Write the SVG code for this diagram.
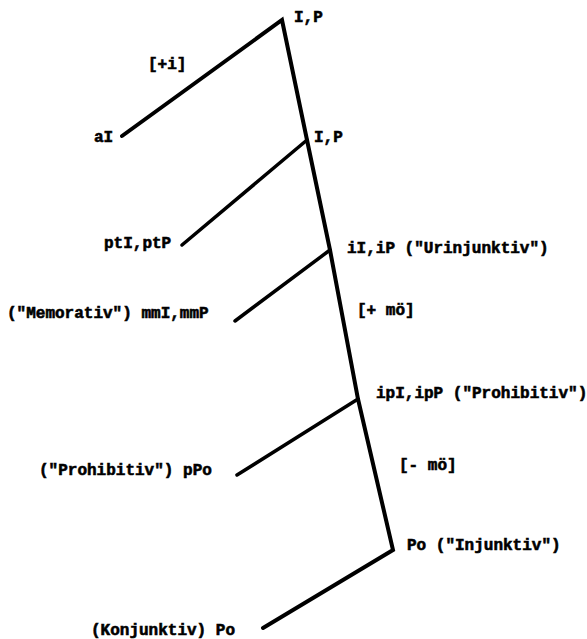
<svg xmlns="http://www.w3.org/2000/svg" width="587" height="639" viewBox="0 0 587 639">
<style>
text{font-family:"Liberation Mono","DejaVu Sans Mono",monospace;font-weight:bold;font-size:16px;fill:#000;stroke:#000;stroke-width:0.6}
.main{fill:none;stroke:#000;stroke-width:4;stroke-linejoin:miter;stroke-linecap:round}
.br{fill:none;stroke:#000;stroke-width:3.5;stroke-linecap:round}
</style>
<rect width="587" height="639" fill="#fff"/>
<g id="connectors">
<polyline class="main" points="122,136 282,20 307,140 330,250 358,399 393,550 263,628"/>
<line class="br" x1="182" y1="245" x2="307" y2="140"/>
<line class="br" x1="235" y1="321" x2="330" y2="250"/>
<line class="br" x1="237" y1="475" x2="358" y2="399"/>
</g>
<g id="n_root"><text x="294" y="22">I,P</text></g>
<g id="e_i"><text x="148" y="69">[+i]</text></g>
<g id="n_aI"><text x="94" y="142">aI</text></g>
<g id="n_IP2"><text x="314" y="142">I,P</text></g>
<g id="n_pt"><text x="104" y="248">ptI,ptP</text></g>
<g id="n_iI"><text x="347" y="253">iI,iP ("Urinjunktiv")</text></g>
<g id="n_mm"><text x="7" y="318">("Memorativ") mmI,mmP</text></g>
<g id="e_plus"><text x="357" y="315">[+ mö]</text></g>
<g id="n_ip"><text x="376" y="398">ipI,ipP ("Prohibitiv")</text></g>
<g id="n_pPo"><text x="39" y="475">("Prohibitiv") pPo</text></g>
<g id="e_minus"><text x="399" y="470">[- mö]</text></g>
<g id="n_Po"><text x="407" y="550">Po ("Injunktiv")</text></g>
<g id="n_konj"><text x="91" y="635">(Konjunktiv) Po</text></g>
</svg>
